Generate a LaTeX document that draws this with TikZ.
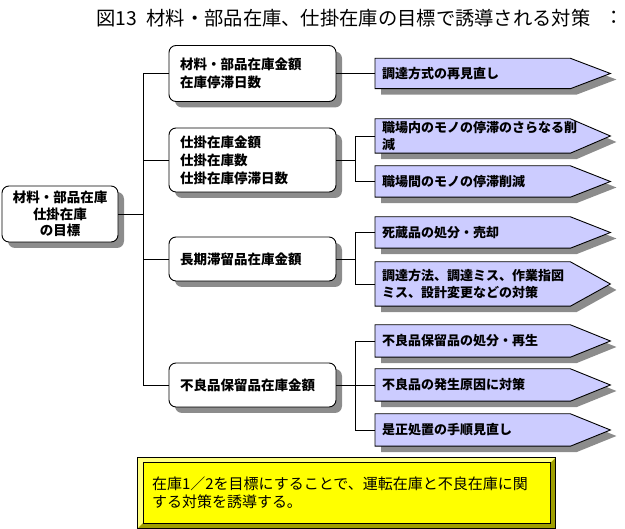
\documentclass[tikz,border=0pt]{standalone}
\usepackage{fontspec}
\setmainfont{Noto Sans CJK JP}
\usetikzlibrary{shadows,backgrounds}
\definecolor{lav}{HTML}{CCCCFF}
\definecolor{shadowc}{HTML}{8C8C8C}
\definecolor{yel}{HTML}{FFFF00}
\definecolor{yellight}{HTML}{FFFF80}
\definecolor{yeldark}{HTML}{9E9E00}
\tikzset{
  x=1pt, y=-1pt,
  conn/.style={line width=0.9pt, black},
  rootbox/.style={draw, line width=0.9pt, fill=white, rounded corners=7pt,
    minimum width=116pt, minimum height=56pt, align=center, inner sep=0pt,
    font=\fontsize{13.5}{16.5}\selectfont\bfseries,
    drop shadow={shadow xshift=6pt, shadow yshift=-6pt, fill=shadowc, opacity=1}},
  midbox/.style={draw, line width=0.9pt, fill=white, rounded corners=7pt,
    minimum width=167pt, text width=145pt, inner xsep=11pt, inner ysep=0pt, align=left,
    font=\fontsize{13.5}{18}\selectfont\bfseries,
    drop shadow={shadow xshift=6pt, shadow yshift=-6pt, fill=shadowc, opacity=1}},
  arrtext/.style={anchor=west, minimum width=195pt, text width=181pt, inner xsep=7pt,
    inner ysep=0pt, align=left, font=\fontsize{13}{17}\selectfont\bfseries},
  notebox/.style={minimum width=417pt, minimum height=70pt, text width=389pt,
    inner xsep=14pt, inner ysep=0pt, align=left, font=\fontsize{15}{18}\selectfont},
  titlefont/.style={font=\fontsize{19.3}{22}\selectfont}
}
\begin{document}
\begin{tikzpicture}
\useasboundingbox (0,0) rectangle (625,529);
% title
\node[titlefont, anchor=west, inner sep=0pt] (title) at (96,18) {図13\hspace{0.5em}材料・部品在庫、仕掛在庫の目標で誘導される対策};
\node[titlefont, anchor=east, inner sep=0pt] (titlecut) at (624,18) {：};
% root
\node[rootbox] (root) at (60,214) {材料・部品在庫\\仕掛在庫\\の目標};
% level 1
\node[midbox, minimum height=56pt] (b1) at (252.5,73.5) {材料・部品在庫金額\\在庫停滞日数};
\node[midbox, minimum height=64pt] (b2) at (252.5,160) {仕掛在庫金額\\仕掛在庫数\\仕掛在庫停滞日数};
\node[midbox, minimum height=44pt] (b3) at (252.5,259) {長期滞留品在庫金額};
\node[midbox, minimum height=44pt] (b4) at (252.5,385) {不良品保留品在庫金額};
% level 2 arrows
\node[arrtext, minimum height=30pt] (a1) at (375,73.5) {調達方式の再見直し};
\node[arrtext, minimum height=34pt] (a2) at (375,136) {職場内のモノの停滞のさらなる削\\減};
\node[arrtext, minimum height=31pt] (a3) at (375,181.5) {職場間のモノの停滞削減};
\node[arrtext, minimum height=31pt] (a4) at (375,232.5) {死蔵品の処分・売却};
\node[arrtext, minimum height=44pt] (a5) at (375,284) {調達方法、調達ミス、作業指図\\ミス、設計変更などの対策};
\node[arrtext, minimum height=32pt] (a6) at (375,341) {不良品保留品の処分・再生};
\node[arrtext, minimum height=32pt] (a7) at (375,385) {不良品の発生原因に対策};
\node[arrtext, minimum height=32pt] (a8) at (375,430) {是正処置の手順見直し};
\begin{scope}[on background layer]
\foreach \n in {a1,a2,a3,a4,a5,a6,a7,a8}{
  \fill[shadowc] ([shift={(6,6)}]\n.north west) -- ([shift={(6,6)}]\n.north east)
     -- ([shift={(46,6)}]\n.east) -- ([shift={(6,6)}]\n.south east)
     -- ([shift={(6,6)}]\n.south west) -- cycle;
  \draw[line width=0.9pt, fill=lav] (\n.north west) -- (\n.north east)
     -- ([xshift=40]\n.east) -- (\n.south east) -- (\n.south west) -- cycle;
}
\end{scope}
% connectors
\coordinate (tx) at (143,0);
\coordinate (bx) at (355,0);
\draw[conn] (root.east) -- (root.east -| tx);
\draw[conn] (b1.west) -- (b1.west -| tx) -- (b4.west -| tx) -- (b4.west);
\draw[conn] (b2.west) -- (b2.west -| tx);
\draw[conn] (b3.west) -- (b3.west -| tx);
\draw[conn] (b1.east) -- (a1.west);
\draw[conn] (b2.east) -- (b2.east -| bx);
\draw[conn] (a2.west) -- (a2.west -| bx) -- (a3.west -| bx) -- (a3.west);
\draw[conn] (b3.east) -- (b3.east -| bx);
\draw[conn] (a4.west) -- (a4.west -| bx) -- (a5.west -| bx) -- (a5.west);
\draw[conn] (b4.east) -- (a7.west);
\draw[conn] (a6.west) -- (a6.west -| bx) -- (a8.west -| bx) -- (a8.west);
% note box
\node[notebox] (note) at (346.5,493) {在庫1／2を目標にすることで、運転在庫と不良在庫に関\\する対策を誘導する。};
\begin{scope}[on background layer]
\fill[yeldark] (note.north west) rectangle (note.south east);
\fill[yellight] (note.north west) -- (note.north east) -- ([shift={(-5,5)}]note.north east)
   -- ([shift={(5,5)}]note.north west) -- ([shift={(5,-5)}]note.south west) -- (note.south west) -- cycle;
\draw[fill=yel, line width=0.6pt] ([shift={(5,5)}]note.north west) rectangle ([shift={(-5,-5)}]note.south east);
\draw[line width=1pt] (note.north west) rectangle (note.south east);
\end{scope}
\end{tikzpicture}
\end{document}
